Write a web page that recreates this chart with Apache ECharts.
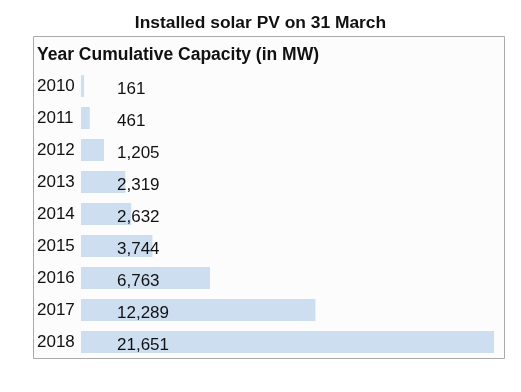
<!DOCTYPE html>
<html>
<head>
<meta charset="utf-8">
<script src="https://cdn.jsdelivr.net/npm/echarts@6/dist/echarts.min.js"></script>
<style>
html,body{margin:0;padding:0;background:#fff;}
#c{width:521px;height:392px;}
</style>
</head>
<body>
<div id="c"></div>
<script>
var years = ['2010','2011','2012','2013','2014','2015','2016','2017','2018'];
var capacity = [161, 461, 1205, 2319, 2632, 3744, 6763, 12289, 21651];
var titleText = 'Installed solar PV on 31 March';
var headerText = 'Year Cumulative Capacity (in MW)';

var FONT = '"Liberation Sans", Arial, Helvetica, sans-serif';
var chart = echarts.init(document.getElementById('c'), null, {renderer: 'canvas'});
chart.setOption({
  animation: false,
  backgroundColor: '#ffffff',
  title: [
    {text: titleText, left: 'center', top: 15, padding: 0,
     textStyle: {fontFamily: FONT, fontSize: 17.4, fontWeight: 'bold', color: '#111'}},
    {text: headerText, left: 37, top: 46, padding: 0,
     textStyle: {fontFamily: FONT, fontSize: 17.5, fontWeight: 'bold', color: '#111'}}
  ],
  graphic: [
    {type: 'rect', z: -10, silent: true,
     shape: {x: 33.5, y: 36.5, width: 471, height: 322},
     style: {fill: '#fcfcfc', stroke: '#aaaaaa', lineWidth: 1}}
  ],
  grid: {left: 81, right: 27, top: 70, bottom: 34, containLabel: false},
  xAxis: {type: 'value', min: 0, max: 21651, show: false},
  yAxis: {
    type: 'category', data: years, inverse: true,
    axisLine: {show: false}, axisTick: {show: false}, splitLine: {show: false},
    axisLabel: {align: 'left', margin: 44, fontFamily: FONT, fontSize: 17, color: '#111'}
  },
  series: [{
    type: 'bar', data: capacity, barWidth: 22,
    itemStyle: {color: '#cedef1'},
    label: {
      show: true, position: 'insideLeft', distance: 36, offset: [0, 3],
      fontFamily: FONT, fontSize: 17, color: '#111',
      formatter: function (p) { return p.value.toLocaleString('en-US'); }
    }
  }]
});
</script>
</body>
</html>
